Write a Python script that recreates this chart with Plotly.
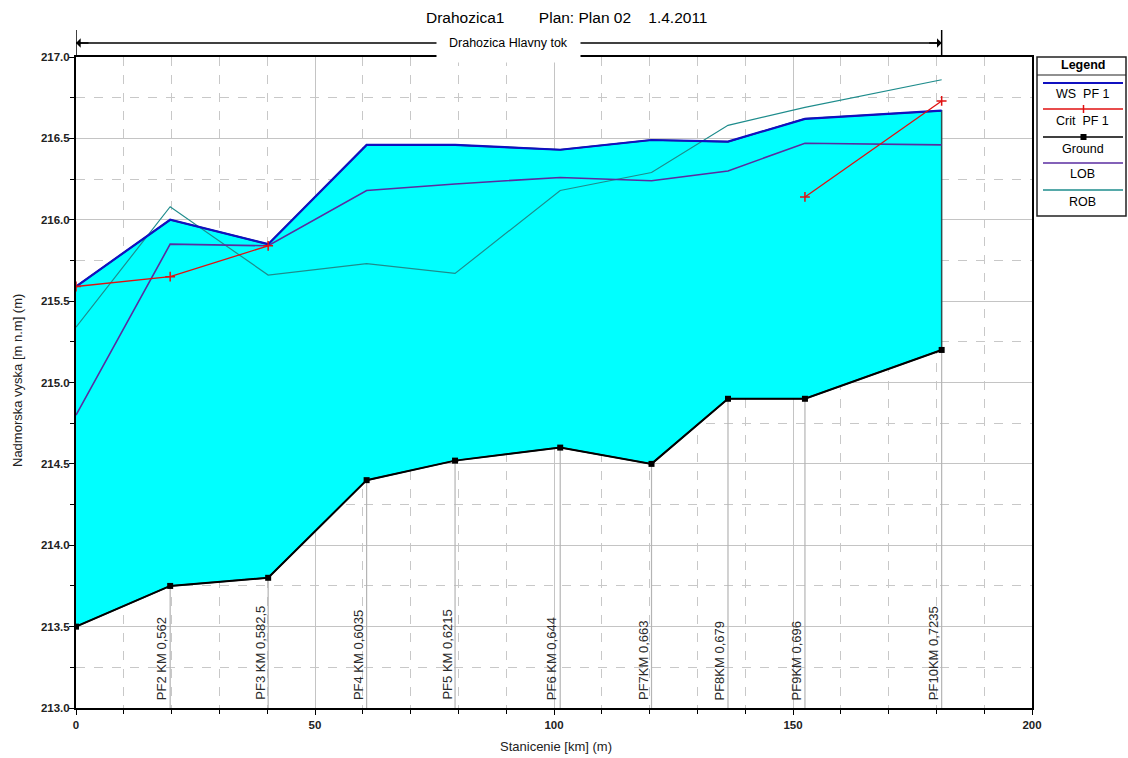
import plotly.graph_objects as go

# River stations (m) and profile names
stations = [0, 19.7, 40.2, 60.8, 79.3, 101.3, 120.4, 136.4, 152.5, 181.1]
profile_names = ["", "PF2 KM 0,562", "PF3 KM 0,582,5", "PF4 KM 0,6035", "PF5 KM 0,6215",
                 "PF6 KM 0,644", "PF7KM 0,663", "PF8KM 0,679", "PF9KM 0,696", "PF10KM 0,7235"]

# Elevations (m n.m.)
ground = [213.50, 213.75, 213.80, 214.40, 214.52, 214.60, 214.50, 214.90, 214.90, 215.20]
ws_pf1 = [215.59, 216.00, 215.85, 216.46, 216.46, 216.43, 216.49, 216.48, 216.62, 216.67]
crit_pf1 = [215.59, 215.65, 215.84, None, None, None, None, None, 216.14, 216.73]
lob = [214.80, 215.85, 215.84, 216.18, 216.22, 216.26, 216.24, 216.30, 216.47, 216.46]
rob = [215.34, 216.08, 215.66, 215.73, 215.67, 216.18, 216.29, 216.58, 216.69, 216.86]

# Axis settings
x_range = [0, 200]
y_range = [213.0, 217.0]
x_ticks = [0, 50, 100, 150, 200]
y_ticks = [213.0, 213.5, 214.0, 214.5, 215.0, 215.5, 216.0, 216.5, 217.0]

FONT = "Liberation Sans, Arial, sans-serif"
C_WS = "#1010C0"
C_CRIT = "#E01010"
C_GROUND = "#000000"
C_LOB = "#5A2CA0"
C_ROB = "#1E8C8C"
C_FILL = "#00FFFF"

fig = go.Figure()

# Water body between ground and water surface
fig.add_trace(go.Scatter(
    x=stations + stations[::-1],
    y=ground + ws_pf1[::-1],
    fill="toself", fillcolor=C_FILL,
    mode="lines", line=dict(color="#2F4F4F", width=1.5),
    hoverinfo="skip", showlegend=False))

# Vertical profile lines from the bottom of the plot up to the ground
px, py = [], []
for s, g in zip(stations[1:], ground[1:]):
    px += [s, s, None]
    py += [y_range[0], g, None]
fig.add_trace(go.Scatter(x=px, y=py, mode="lines",
                         line=dict(color="#B4B4B4", width=1.2),
                         hoverinfo="skip", showlegend=False))

fig.add_trace(go.Scatter(x=stations, y=rob, mode="lines", name="ROB",
                         line=dict(color=C_ROB, width=1.2), showlegend=False))
fig.add_trace(go.Scatter(x=stations, y=lob, mode="lines", name="LOB",
                         line=dict(color=C_LOB, width=1.6), showlegend=False))
fig.add_trace(go.Scatter(x=stations, y=ws_pf1, mode="lines", name="WS  PF 1",
                         line=dict(color=C_WS, width=2.2), showlegend=False))
fig.add_trace(go.Scatter(x=stations, y=crit_pf1, mode="lines+markers", name="Crit  PF 1",
                         connectgaps=False,
                         line=dict(color=C_CRIT, width=1.3),
                         marker=dict(symbol="cross-thin", size=7,
                                     line=dict(color=C_CRIT, width=1.5)),
                         showlegend=False))
fig.add_trace(go.Scatter(x=stations, y=ground, mode="lines+markers", name="Ground",
                         line=dict(color=C_GROUND, width=2),
                         marker=dict(symbol="square", size=6, color=C_GROUND),
                         showlegend=False))

# Profile labels, rotated, sitting on the x axis
for s, name in zip(stations, profile_names):
    if not name:
        continue
    fig.add_annotation(x=s, y=y_range[0], xref="x", yref="y", text=name,
                       textangle=-90, showarrow=False, xanchor="right", yanchor="bottom",
                       xshift=1, yshift=6,
                       font=dict(family=FONT, size=13, color="#2a2a2a"))

# Plot geometry in pixels (for paper-coordinate furniture)
W, H = 1128, 758
L, R, T, B = 76, 96, 57, 50
pw, ph = W - L - R, H - T - B


def pxx(x):
    return (x - L) / pw


def pxy(y):
    return (H - B - y) / ph


def text_at(x, y, text, size, **kw):
    fig.add_annotation(x=pxx(x), y=pxy(y), xref="paper", yref="paper", text=text,
                       showarrow=False, xanchor="center", yanchor="middle",
                       font=dict(family=FONT, size=size, color=kw.pop("color", "black")),
                       **kw)


# Reach arrow above the plot
y_arrow = pxy(43)
fig.add_shape(type="line", xref="x", yref="paper", x0=stations[0], x1=stations[-1],
              y0=y_arrow, y1=y_arrow, line=dict(color="black", width=1.5))
for s in (stations[0], stations[-1]):
    fig.add_shape(type="line", xref="x", yref="paper", x0=s, x1=s,
                  y0=pxy(57), y1=pxy(30), line=dict(color="black", width=1.5))
fig.add_annotation(x=stations[0], y=y_arrow, xref="x", yref="paper", text="",
                   showarrow=True, ax=14, ay=0, arrowhead=1, arrowsize=1.2,
                   arrowwidth=1.3, arrowcolor="black")
fig.add_annotation(x=stations[-1], y=y_arrow, xref="x", yref="paper", text="",
                   showarrow=True, ax=-14, ay=0, arrowhead=1, arrowsize=1.2,
                   arrowwidth=1.3, arrowcolor="black")
fig.add_annotation(x=stations[-1] / 2, y=y_arrow, xref="x", yref="paper",
                   text="Drahozica Hlavny tok", showarrow=False, bgcolor="white",
                   xanchor="center", yanchor="middle", borderpad=12,
                   font=dict(family=FONT, size=12.5, color="black"))

# Title
text_at(566, 18, "Drahozica1" + "&nbsp;" * 8 + "Plan: Plan 02" + "&nbsp;" * 4 + "1.4.2011", 15.5)

# Axis titles
text_at(18, 381, "Nadmorska vyska [m n.m] (m)", 13, textangle=-90, color="#222")
text_at(556, 746, "Stanicenie [km] (m)", 13, color="#222")

# Legend box
lx0, lx1, ly0, ly1 = 1037, 1126, 57, 216
fig.add_shape(type="rect", xref="paper", yref="paper",
              x0=pxx(lx0), x1=pxx(lx1), y0=pxy(ly1), y1=pxy(ly0),
              line=dict(color="#222", width=1.5), fillcolor="white")
fig.add_shape(type="line", xref="paper", yref="paper",
              x0=pxx(lx0), x1=pxx(lx1), y0=pxy(75), y1=pxy(75),
              line=dict(color="#222", width=1.2))
lcx = (lx0 + lx1) / 2
text_at(lcx + 1, 65, "<b>Legend</b>", 12.5)
legend_items = [("WS  PF 1", C_WS, 2.0, 83, 94),
                ("Crit  PF 1", C_CRIT, 1.3, 109, 121),
                ("Ground", C_GROUND, 1.6, 137, 149),
                ("LOB", C_LOB, 1.6, 163, 174),
                ("ROB", C_ROB, 1.6, 190, 202)]
for label, col, wdt, yl, yt in legend_items:
    fig.add_shape(type="line", xref="paper", yref="paper",
                  x0=pxx(lx0 + 6), x1=pxx(lx1 - 3), y0=pxy(yl), y1=pxy(yl),
                  line=dict(color=col, width=wdt))
    text_at(lcx + 1, yt, label, 12.5)
# legend symbols
fig.add_shape(type="line", xref="paper", yref="paper",
              x0=pxx(lcx + 2), x1=pxx(lcx + 2), y0=pxy(105), y1=pxy(113),
              line=dict(color=C_CRIT, width=1.5))
fig.add_shape(type="rect", xref="paper", yref="paper",
              x0=pxx(lcx - 1), x1=pxx(lcx + 5), y0=pxy(140), y1=pxy(134),
              line=dict(color="black", width=0), fillcolor="black")

axis_font = dict(family=FONT, size=11.5, color="#222", weight="bold")
fig.update_xaxes(range=x_range, tickvals=x_ticks, ticks="outside", ticklen=5,
                 tickcolor="black", tickfont=axis_font,
                 showgrid=True, gridcolor="#C4C4C4", gridwidth=1,
                 minor=dict(dtick=10, tick0=0, ticks="outside", ticklen=4,
                            tickcolor="black", showgrid=True, gridcolor="#C8C8C8",
                            griddash="dash", gridwidth=1),
                 showline=True, linecolor="black", linewidth=2, mirror=True,
                 zeroline=False)
fig.update_yaxes(range=y_range, tickvals=y_ticks, tickformat=".1f",
                 ticks="outside", ticklen=5, tickcolor="black", tickfont=axis_font,
                 ticklabelstandoff=-3,
                 showgrid=True, gridcolor="#C4C4C4", gridwidth=1,
                 minor=dict(dtick=0.25, tick0=213.0, ticks="outside", ticklen=4,
                            tickcolor="black", showgrid=True, gridcolor="#C8C8C8",
                            griddash="dash", gridwidth=1),
                 showline=True, linecolor="black", linewidth=2, mirror=True,
                 zeroline=False)

fig.update_layout(width=W, height=H,
                  margin=dict(l=L, r=R, t=T, b=B, autoexpand=False),
                  plot_bgcolor="white", paper_bgcolor="white",
                  showlegend=False, font=dict(family=FONT))

fig.write_html("out.html")
